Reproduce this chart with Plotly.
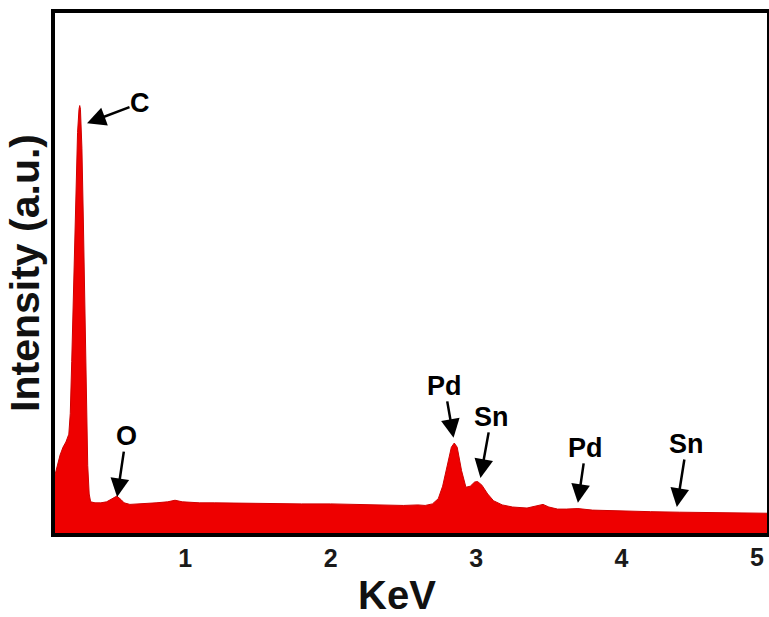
import plotly.graph_objects as go

# EDS spectrum (energy in keV, intensity in arbitrary units)
energy = [0.105, 0.12, 0.14, 0.16, 0.18, 0.20, 0.21, 0.22, 0.23, 0.24, 0.25, 0.26,
          0.27, 0.275, 0.28, 0.29, 0.30, 0.31, 0.32, 0.33, 0.34, 0.35, 0.38, 0.42,
          0.46, 0.50, 0.53, 0.56, 0.58, 0.62, 0.70, 0.80, 0.88, 0.93, 0.98, 1.10,
          1.20, 1.40, 1.60, 1.80, 2.00, 2.20, 2.40, 2.50, 2.60, 2.65, 2.70, 2.74,
          2.77, 2.80, 2.83, 2.85, 2.87, 2.90, 2.93, 2.96, 2.99, 3.01, 3.04, 3.08,
          3.12, 3.18, 3.25, 3.35, 3.42, 3.46, 3.50, 3.56, 3.62, 3.70, 3.80, 3.90,
          4.00, 4.20, 4.40, 4.60, 4.80, 5.00]
intensity = [112, 130, 150, 165, 175, 190, 230, 330, 440, 560, 680, 770,
             815, 822, 815, 740, 600, 420, 250, 130, 75, 60, 58, 58,
             60, 66, 71, 64, 58, 55, 56, 58, 60, 63, 60, 58,
             58, 57, 57, 56, 56, 55, 54, 53, 54, 53, 56, 66,
             90, 130, 165, 173, 165, 120, 88, 90, 98, 99, 92, 75,
             62, 54, 50, 48, 52, 55, 50, 46, 46, 47, 44, 43,
             42, 41, 40, 39, 39, 38]

# Element line labels: arrow tip (energy, intensity) and text
line_labels = ["C", "O", "Pd", "Sn", "Pd", "Sn"]
line_energy = [0.325, 0.532, 2.845, 3.03, 3.70, 4.38]
line_tip = [788, 69, 183, 106, 58, 50]
# text offsets from the arrow tip, in pixels
label_dx = [53, 9, -9, 11, 8, 10]
label_dy = [-20, -61, -52, -61, -55, -63]

tick_vals = [1, 2, 3, 4, 5]
tick_text = ["1", "2", "3", "4", "5"]

FONT = "Liberation Sans, Arial, sans-serif"
TICK_FONT = dict(family=FONT, size=25, color="#1a1a1a")

fig = go.Figure()
fig.add_trace(go.Scatter(
    x=energy, y=intensity, mode="lines",
    line=dict(color="#d00000", width=1),
    fill="tozeroy", fillcolor="#ee0000",
    hoverinfo="skip", showlegend=False,
))

for txt, e, tip, dx, dy in zip(line_labels, line_energy, line_tip, label_dx, label_dy):
    fig.add_annotation(
        x=e, y=tip, xref="x", yref="y",
        text=f"<b>{txt}</b>", showarrow=True,
        ax=dx, ay=dy, axref="pixel", ayref="pixel",
        arrowhead=2, arrowsize=1.5, arrowwidth=2.5, arrowcolor="black",
        standoff=0, borderpad=0,
        font=dict(family=FONT, size=27, color="black"),
    )

# the last tick label sits at the frame edge, so it is right-aligned inside the figure
fig.add_annotation(
    x=tick_vals[-1], y=0, xref="x", yref="paper",
    xanchor="right", yanchor="middle", xshift=-1, yshift=-24,
    text=f"<b>{tick_text[-1]}</b>", showarrow=False, font=TICK_FONT,
)

# x-axis title
fig.add_annotation(
    x=0.5, y=0, xref="paper", yref="paper",
    xanchor="center", yanchor="middle", xshift=-14, yshift=-62,
    text="<b>KeV</b>", showarrow=False,
    font=dict(family=FONT, size=40, color="#111111"),
)

fig.update_layout(
    width=769, height=617,
    margin=dict(l=55, r=2, t=13, b=84),
    paper_bgcolor="white", plot_bgcolor="white",
    font=dict(family=FONT, color="black"),
    xaxis=dict(
        range=[0.105, 5.0], automargin=False,
        tickvals=tick_vals[:-1], ticktext=[f"<b>{t}</b>" for t in tick_text[:-1]],
        ticks="", tickfont=TICK_FONT,
        showgrid=False, zeroline=False,
        showline=True, linecolor="black", linewidth=3.5, mirror=True,
    ),
    yaxis=dict(
        range=[0, 1000], automargin=False,
        showticklabels=False, ticks="",
        showgrid=False, zeroline=False,
        showline=True, linecolor="black", linewidth=3.5, mirror=True,
        title=dict(text="<b>Intensity (a.u.)</b>", font=dict(family=FONT, size=41, color="#111111"), standoff=0),
    ),
)

fig.write_html("out.html")
